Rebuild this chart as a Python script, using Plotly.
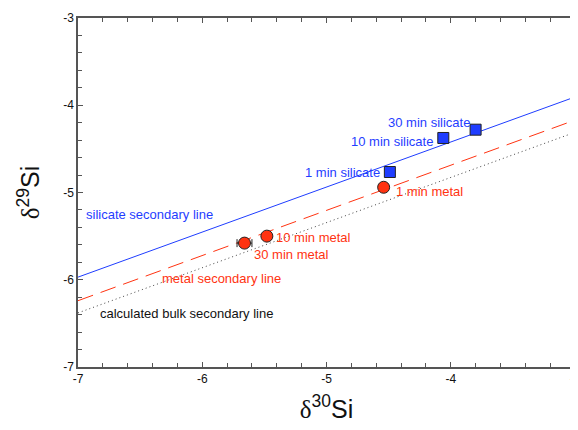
import plotly.graph_objects as go

# Secondary lines (endpoints over x range)
line_x = [-7, -3]
silicate_line_y = [-5.97, -3.905]
metal_line_y = [-6.24, -4.17]
bulk_line_y = [-6.38, -4.31]

# Data points
silicate_labels = ["30 min silicate", "10 min silicate", "1 min silicate"]
silicate_x = [-3.80, -4.06, -4.49]
silicate_y = [-4.28, -4.375, -4.765]

metal_labels = ["1 min metal", "10 min metal", "30 min metal"]
metal_x = [-4.54, -5.48, -5.66]
metal_y = [-4.94, -5.50, -5.58]
metal_xerr = [0, 0, 0.06]

tick_vals = [-7, -6, -5, -4, -3]
tick_text = ["-7", "-6", "-5", "-4", "-3"]

BLUE = "#1f3dff"
RED = "#ff3311"
FONT = "Liberation Sans, Arial, sans-serif"
DELTA = "<span style='font-family:Liberation Serif'>δ</span>"

fig = go.Figure()
fig.add_trace(go.Scatter(x=line_x, y=silicate_line_y, mode="lines",
                         line=dict(color=BLUE, width=1), showlegend=False))
fig.add_trace(go.Scatter(x=line_x, y=metal_line_y, mode="lines",
                         line=dict(color=RED, width=1, dash="16px,8px"), showlegend=False))
fig.add_trace(go.Scatter(x=line_x, y=bulk_line_y, mode="lines",
                         line=dict(color="#444444", width=1, dash="1px,3px"), showlegend=False))
fig.add_trace(go.Scatter(x=silicate_x, y=silicate_y, mode="markers",
                         marker=dict(symbol="square", size=11, color=BLUE,
                                     line=dict(color="#222222", width=1)),
                         showlegend=False))
fig.add_trace(go.Scatter(x=metal_x, y=metal_y, mode="markers",
                         error_x=dict(type="data", array=metal_xerr, color="#222222",
                                      thickness=1, width=4),
                         marker=dict(symbol="circle", size=12, color=RED,
                                     line=dict(color="#222222", width=1)),
                         showlegend=False))

ann = [
    # text, x, y, xanchor, color
    ("30 min silicate", -3.83, -4.20, "right", BLUE),
    ("10 min silicate", -4.13, -4.42, "right", BLUE),
    ("1 min silicate", -4.55, -4.77, "right", BLUE),
    ("1 min metal", -4.46, -4.985, "left", RED),
    ("10 min metal", -5.42, -5.51, "left", RED),
    ("30 min metal", -5.60, -5.71, "left", RED),
    ("silicate secondary line", -6.95, -5.25, "left", BLUE),
    ("metal secondary line", -6.34, -5.98, "left", RED),
    ("calculated bulk secondary line", -6.84, -6.39, "left", "#111111"),
]
annotations = []
for t, x, y, xa, c in ann:
    annotations.append(dict(text=t, x=x, y=y, xref="x", yref="y", xanchor=xa,
                            yanchor="middle", showarrow=False,
                            font=dict(family=FONT, size=13, color=c)))

axis_common = dict(showline=True, linecolor="#555555", linewidth=1.5, mirror="ticks",
                   ticks="inside", ticklen=5, tickcolor="#555555", showgrid=False,
                   zeroline=False, tickvals=tick_vals, ticktext=tick_text,
                   automargin=False, ticklabeloverflow="allow",
                   tickfont=dict(family=FONT, size=12, color="#111111"),
                   minor=dict(dtick=0.2, ticks="inside", ticklen=4, tickcolor="#555555"))

fig.update_layout(
    width=570, height=422,
    margin=dict(l=70, r=3, t=10, b=63),
    plot_bgcolor="white", paper_bgcolor="white",
    xaxis=dict(range=[-7, -3], title=dict(text=DELTA + "<sup>30</sup>Si", standoff=15,
               font=dict(family=FONT, size=25, color="#111111")), **axis_common),
    yaxis=dict(range=[-7, -3], title=dict(text=DELTA + "<sup>29</sup>Si", standoff=16,
               font=dict(family=FONT, size=25, color="#111111")), **axis_common),
    annotations=annotations,
)
fig.write_html("out.html")
